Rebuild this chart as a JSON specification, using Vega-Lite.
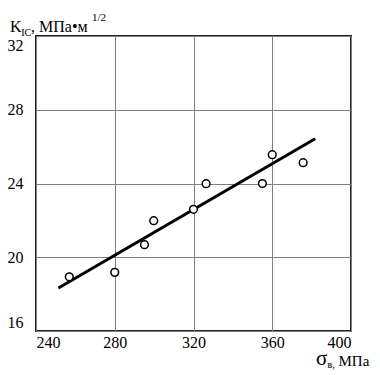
{
  "$schema": "https://vega.github.io/schema/vega-lite/v6.json",
  "width": 315,
  "height": 295,
  "autosize": "none",
  "padding": {"left": 36, "top": 36, "right": 29, "bottom": 44},
  "background": "white",
  "title": {
    "text": "1/2",
    "anchor": "start",
    "frame": "group",
    "orient": "top",
    "offset": 0,
    "dx": 56,
    "dy": 14,
    "font": "Liberation Serif",
    "fontSize": 11,
    "fontWeight": "normal",
    "color": "black",
    "baseline": "alphabetic"
  },
  "config": {
    "view": {"stroke": "#222222", "strokeWidth": 2},
    "axis": {
      "labelFont": "Liberation Serif",
      "titleFont": "Liberation Serif",
      "labelColor": "black",
      "titleColor": "black",
      "titleFontWeight": "normal",
      "domain": false,
      "ticks": false,
      "tickSize": 0,
      "gridColor": "#808080",
      "gridWidth": 1,
      "gridOpacity": 1,
      "titleAngle": 0,
      "titleAlign": "left",
      "titleBaseline": "alphabetic"
    }
  },
  "datasets": {
    "pts": [
      {"sigma": 256.9, "kic": 18.94},
      {"sigma": 280, "kic": 19.18},
      {"sigma": 295.1, "kic": 20.68},
      {"sigma": 299.8, "kic": 21.98},
      {"sigma": 320, "kic": 22.6},
      {"sigma": 326.4, "kic": 23.99},
      {"sigma": 355, "kic": 24.0},
      {"sigma": 360, "kic": 25.56},
      {"sigma": 375.7, "kic": 25.13}
    ],
    "fit": [
      {"sigma": 251.4, "kic": 18.33},
      {"sigma": 381.8, "kic": 26.43}
    ]
  },
  "resolve": {"axis": {"x": "independent", "y": "independent"}},
  "layer": [
    {
      "data": {"name": "fit"},
      "mark": {"type": "line", "color": "black", "strokeWidth": 3},
      "encoding": {
        "x": {
          "field": "sigma", "type": "quantitative",
          "scale": {"domain": [240, 400], "nice": false, "zero": false},
          "axis": {
            "orient": "bottom", "values": [240, 280, 320, 360, 400],
            "grid": true, "labels": true, "labelFontSize": 16, "labelPadding": 3,
            "title": "σ", "titleFontSize": 21, "titleX": 279.5, "titleY": 33
          }
        },
        "y": {
          "field": "kic", "type": "quantitative",
          "scale": {"domain": [16, 32], "nice": false, "zero": false},
          "axis": {
            "orient": "left", "values": [16, 20, 24, 28, 32],
            "grid": true, "labels": true, "labelFontSize": 16, "labelPadding": 13,
            "labelFlush": true, "labelFlushOffset": -1,
            "title": "K", "titleFontSize": 16, "titleX": -26.5, "titleY": -5
          }
        }
      }
    },
    {
      "data": {"name": "pts"},
      "mark": {"type": "point", "shape": "circle", "filled": false, "fill": "white", "stroke": "black", "strokeWidth": 1.5, "size": 60, "opacity": 1},
      "encoding": {
        "x": {
          "field": "sigma", "type": "quantitative",
          "axis": {
            "orient": "bottom", "grid": false, "labels": false,
            "title": "в,", "titleFontSize": 10, "titleX": 291, "titleY": 36
          }
        },
        "y": {
          "field": "kic", "type": "quantitative",
          "axis": {
            "orient": "left", "grid": false, "labels": false,
            "title": "IC", "titleFontSize": 10, "titleX": -15.3, "titleY": -0.5
          }
        }
      }
    },
    {
      "data": {"name": "fit"},
      "mark": {"type": "point", "opacity": 0},
      "encoding": {
        "x": {
          "field": "sigma", "type": "quantitative",
          "axis": {
            "orient": "bottom", "grid": false, "labels": false,
            "title": "МПа", "titleFontSize": 15, "titleX": 302, "titleY": 34
          }
        },
        "y": {
          "field": "kic", "type": "quantitative",
          "axis": {
            "orient": "left", "grid": false, "labels": false,
            "title": ", МПа•м", "titleFontSize": 16, "titleX": -5.5, "titleY": -5
          }
        }
      }
    }
  ]
}
